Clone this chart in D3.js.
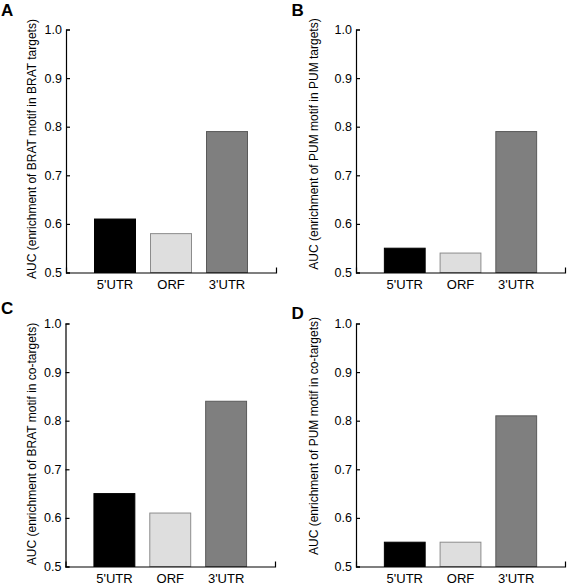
<!DOCTYPE html>
<html>
<head>
<meta charset="utf-8">
<script src="https://cdn.jsdelivr.net/npm/d3@7"></script>
<style>
  body { margin: 0; background: #fff; }
  svg { display: block; }
  text { font-family: "Liberation Sans", Arial, Helvetica, sans-serif; fill: #000; }
</style>
</head>
<body>
<svg id="chart" width="567" height="585"></svg>
<script>
// ---- data ----
const categories = ["5'UTR", "ORF", "3'UTR"];
const panelLetters = ["A", "B", "C", "D"];
const yLabels = [
  "AUC (enrichment of BRAT motif in BRAT targets)",
  "AUC (enrichment of PUM motif in PUM targets)",
  "AUC (enrichment of BRAT motif in co-targets)",
  "AUC (enrichment of PUM motif in co-targets)"
];
const valuesA = [0.61, 0.58, 0.79];
const valuesB = [0.55, 0.54, 0.79];
const valuesC = [0.65, 0.61, 0.84];
const valuesD = [0.55, 0.55, 0.81];
const yTicks = [0.5, 0.6, 0.7, 0.8, 0.9, 1.0];
const yDomain = [0.5, 1.0];

// ---- styling / layout ----
const fills = ["#000000", "#dedede", "#7f7f7f"];
const strokes = ["#000000", "#8c8c8c", "#5a5a5a"];
const layout = [
  { x0: 66,  x1: 276, yTop: 29.5,  yBot: 272.5, labelX: 32,  labelY: 149, letterX: 1,   letterY: 15.5 },
  { x0: 356, x1: 565, yTop: 29.5,  yBot: 272.5, labelX: 314, labelY: 144, letterX: 291.5, letterY: 15.5 },
  { x0: 65.5, x1: 275, yTop: 323.5, yBot: 566.5, labelX: 32, labelY: 444, letterX: 1,   letterY: 313.5 },
  { x0: 356, x1: 565, yTop: 323.5, yBot: 566.5, labelX: 314, labelY: 436, letterX: 291.5, letterY: 318.5 }
];
const panelValues = [valuesA, valuesB, valuesC, valuesD];

const svg = d3.select("#chart");

panelValues.forEach((vals, i) => {
  const L = layout[i];
  const g = svg.append("g");

  const x = d3.scaleBand().domain(categories).range([L.x0, L.x1])
    .paddingInner(0.25).paddingOuter(0.5);
  const y = d3.scaleLinear().domain(yDomain).range([L.yBot, L.yTop]);

  // bars
  g.selectAll("rect.bar").data(vals).join("rect")
    .attr("class", "bar")
    .attr("x", (d, j) => x(categories[j]) + 0.5)
    .attr("width", x.bandwidth() - 1)
    .attr("y", d => y(d))
    .attr("height", d => y(yDomain[0]) - y(d))
    .attr("fill", (d, j) => fills[j])
    .attr("stroke", (d, j) => strokes[j])
    .attr("stroke-width", 1);

  // y axis (inward ticks)
  const yAxis = d3.axisLeft(y).tickValues(yTicks).tickFormat(d3.format(".1f"))
    .tickSize(-4).tickSizeOuter(-4).tickPadding(4);
  const gy = g.append("g").attr("transform", `translate(${L.x0},0)`).call(yAxis);
  gy.selectAll("text").style("font-size", "12.5px").attr("fill", "#000");
  gy.selectAll("line, path").attr("stroke", "#000").attr("stroke-width", 1.2);

  // x axis
  const xAxis = d3.axisBottom(x).tickSize(0).tickSizeOuter(-5).tickPadding(7);
  const gx = g.append("g").attr("transform", `translate(0,${L.yBot})`).call(xAxis);
  gx.selectAll("text").style("font-size", "13px").attr("fill", "#000");
  gx.selectAll("path").attr("stroke", "#000").attr("stroke-width", 1.2);

  // y label
  g.append("text")
    .attr("transform", `translate(${L.labelX},${L.labelY}) rotate(-90)`)
    .attr("text-anchor", "middle")
    .attr("dy", "0.35em")
    .style("font-size", "12px")
    .text(yLabels[i]);

  // panel letter
  g.append("text")
    .attr("x", L.letterX).attr("y", L.letterY)
    .style("font-size", "17px").style("font-weight", "bold")
    .text(panelLetters[i]);
});
</script>
</body>
</html>
